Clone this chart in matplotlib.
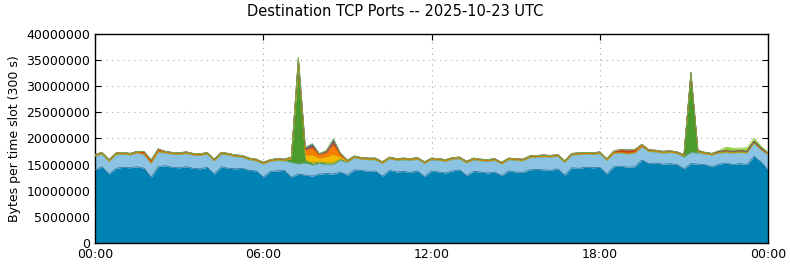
import numpy as np
import matplotlib
matplotlib.use("Agg")
import matplotlib.pyplot as plt

# 15 minute samples, 00:00 .. 24:00 (97 values), millions of bytes per slot
base = [14.0, 14.6, 13.2, 14.3,  14.5, 14.4, 14.6, 14.3,  12.6, 14.6, 14.8, 14.5,
        14.4, 14.6, 14.3, 14.2,  14.5, 13.2, 14.6, 14.3,  14.2, 14.3, 13.9, 13.8,
        12.6, 13.7, 13.8, 13.9,  12.6, 13.2, 13.0, 12.8,  13.2, 13.3, 13.2, 13.6,
        13.0, 14.0, 13.9, 13.7,  13.8, 12.8, 13.9, 13.6,  13.7, 13.5, 13.8, 12.7,
        13.8, 13.6, 13.4, 13.8,  14.0, 12.9, 13.7, 13.6,  13.4, 13.6, 12.9, 13.8,
        13.6, 13.5, 14.0, 14.1,  14.0, 13.9, 14.2, 13.0,  14.4, 14.3, 14.5, 14.4,
        14.5, 13.2, 14.6, 14.7,  14.5, 14.6, 15.9, 15.2,  15.3, 15.1, 15.2, 15.0,
        14.2, 15.2, 15.1, 15.0,  14.6, 15.1, 15.3, 15.0,  15.2, 15.0, 16.6, 15.5,
        14.0]
light = [2.6, 2.4, 2.4, 2.6,  2.5, 2.4, 2.6, 2.6,  2.6, 2.8, 2.4, 2.5,
         2.5, 2.5, 2.5, 2.5,  2.5, 2.5, 2.4, 2.5,  2.3, 2.1, 2.0, 1.9,
         2.5, 1.9, 2.0, 1.8,  2.8, 1.9, 2.3, 2.1,  2.0, 1.7, 1.8, 2.2,
         2.4, 2.3, 2.1, 2.2,  2.1, 2.4, 2.2, 2.2,  2.2, 2.3, 2.2, 2.5,
         2.1, 2.2, 2.2, 2.2,  2.1, 2.4, 2.2, 2.1,  2.2, 2.2, 2.2, 2.1,
         2.2, 2.2, 2.3, 2.3,  2.5, 2.5, 2.4, 2.4,  2.4, 2.6, 2.5, 2.5,
         2.6, 2.6, 2.5, 2.5,  2.5, 2.6, 2.5, 2.3,  2.1, 2.1, 2.1, 2.1,
         2.2, 2.1, 2.1, 2.0,  2.2, 2.1, 2.0, 2.2,  2.1, 2.2, 2.5, 2.3,
         2.9]
green = [0.1] * 28 + [0.8, 18.8, 0.5, 0.4, 0.3, 0.3, 0.3, 0.2] + [0.1] * 48 + \
        [0.3, 15.1, 0.3] + [0.1] * 10
yellow = [0.0] * 29 + [0.6, 0.9, 1.5, 0.7, 1.1, 1.6, 0.4, 0.1] + [0.0] * 60
orange = [0.1] * 29 + [0.5, 1.0, 1.3, 0.6, 0.8, 1.8, 0.4] + [0.1] * 61
red = [0.15] * 7 + [0.4, 0.5, 0.4] + [0.15] * 19 + [0.3, 0.3, 0.4, 0.2, 0.3, 0.6, 0.3] + \
      [0.15] * 38 + [0.3, 0.5, 0.6, 0.5, 0.3] + [0.15] * 18
navy = [0.0] * 29 + [0.2, 0.3, 0.5, 0.1, 0.2, 0.6, 0.1] + [0.0] * 61
lime = [0.0] * 89 + [0.2, 0.7, 0.6, 0.5, 0.7, 0.6, 0.4, 0.1]

layers = [base, light, green, yellow, orange, red, navy, lime]
colors = ['#0083b4', '#8cc3e3', '#4b9a2c', '#f5b800', '#f57c00', '#c8401a', '#3a5fa8', '#95d03a']
edges = ['#2b6f93', '#6aa6c8', '#4b9a2c', '#e0a800', '#e07000', '#b03a18', '#3a5fa8', '#85c030']

hours = np.arange(len(base)) * 0.25
data = np.array(layers) * 1e6
tops = np.cumsum(data, axis=0)

fig = plt.figure(figsize=(7.9, 2.67), dpi=100)
ax = fig.add_axes([0.1203, 0.0899, 0.8519, 0.7828])

bottom = np.zeros(len(hours))
for top, c, e in zip(tops, colors, edges):
    ax.fill_between(hours, bottom, top, color=c, linewidth=0, zorder=2)
    ax.plot(hours, top, color=e, linewidth=0.5, zorder=3)
    bottom = top

ax.set_xlim(0, 24)
ax.set_ylim(0, 40e6)
ax.set_yticks(np.arange(0, 40e6 + 1, 5e6))
ax.set_yticklabels(['%d' % v for v in np.arange(0, 40e6 + 1, 5e6)])
ax.set_xticks([0, 6, 12, 18, 24])
ax.set_xticklabels(['00:00', '06:00', '12:00', '18:00', '00:00'])
ax.tick_params(direction='in', top=True, right=True, labelsize=9, length=4)
ax.grid(True, linestyle=(0, (1, 4)), color='#aaaaaa', linewidth=0.8, zorder=1)
ax.set_axisbelow(True)
for s in ax.spines.values():
    s.set_linewidth(1.0)

ax.set_ylabel('Bytes per time slot (300 s)', fontsize=9)
fig.suptitle('Destination TCP Ports -- 2025-10-23 UTC', fontsize=10.5, y=0.985)

fig.savefig('out.png', dpi=100)
